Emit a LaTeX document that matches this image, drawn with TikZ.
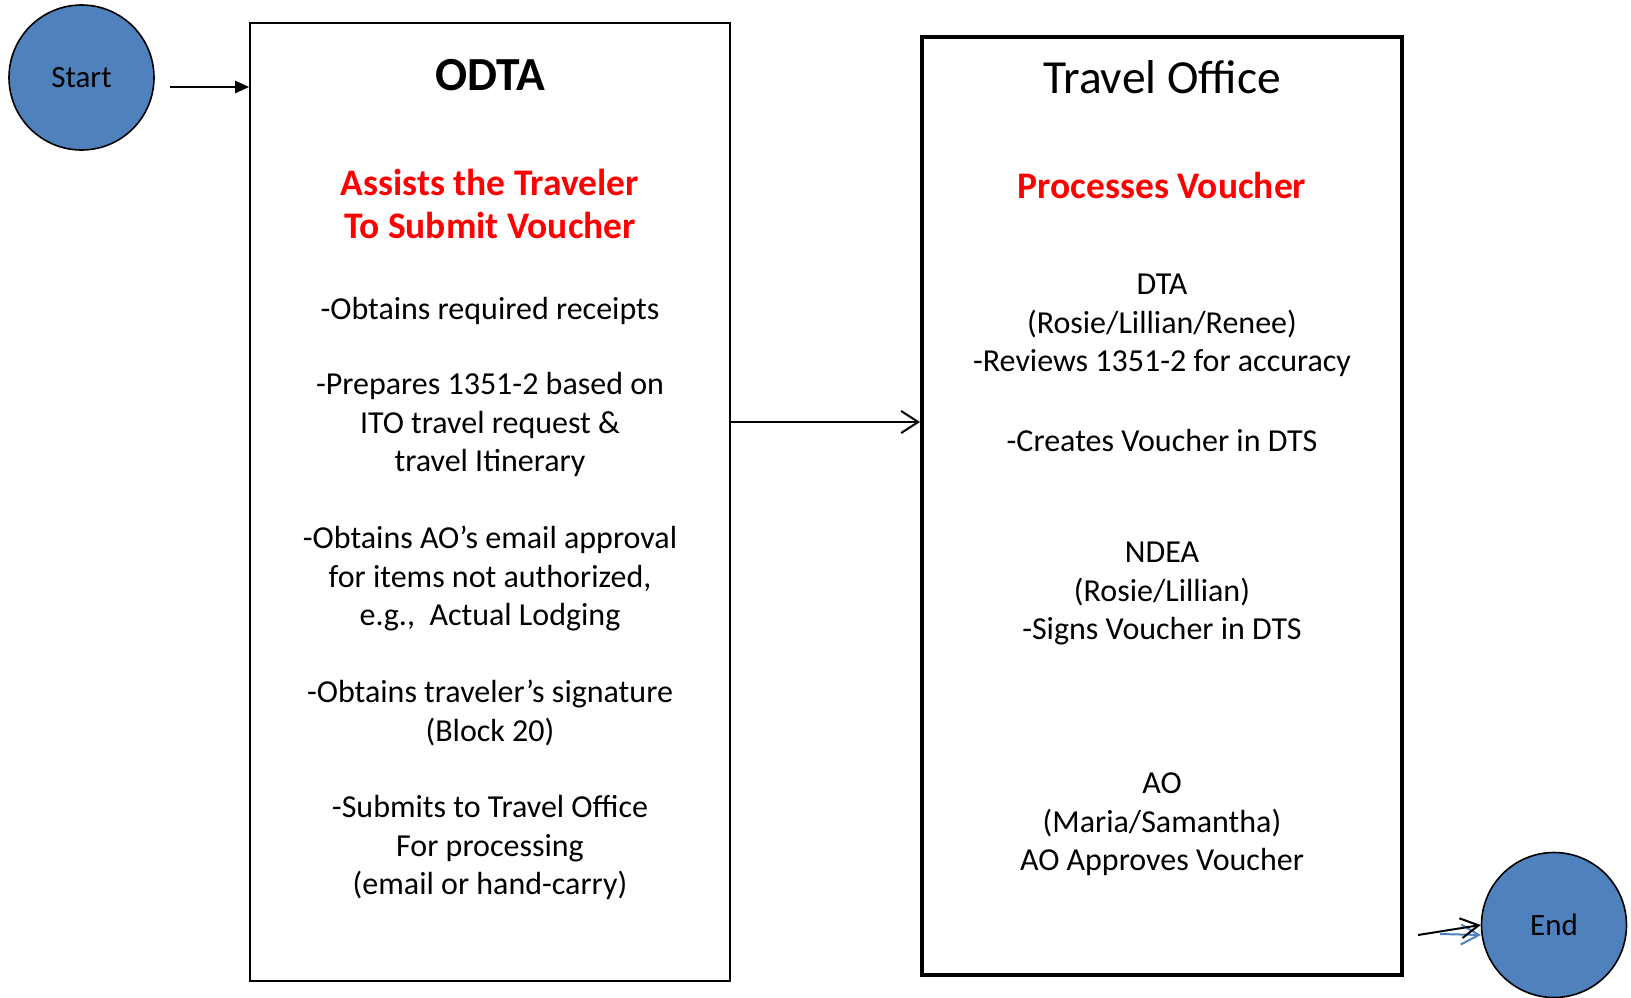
\documentclass[tikz,border=0pt]{standalone}
\usepackage{fontspec}
\setmainfont{Carlito}
\usetikzlibrary{arrows.meta}
\definecolor{circblue}{HTML}{4F81BD}
\begin{document}
\begin{tikzpicture}[x=1pt,y=-1pt,
  circ/.style={circle,draw=black,line width=1.6pt,fill=circblue,minimum size=145pt,inner sep=0pt,font=\fontsize{31}{36}\selectfont},
  boxthin/.style={draw=black,line width=1.6pt,minimum width=480pt,minimum height=958pt,inner sep=0pt},
  boxthick/.style={draw=black,line width=4pt,minimum width=480pt,minimum height=938pt,inner sep=0pt},
  body/.style={align=center,inner sep=0pt,font=\fontsize{32}{38.5}\selectfont},
  ttl/.style={inner sep=0pt,font=\fontsize{47.5}{56}\selectfont},
  redttl/.style={align=center,inner sep=0pt,text=red,font=\fontsize{37.5}{43.5}\selectfont\bfseries},
  conn/.style={line width=2pt}
]
\useasboundingbox (0,0) rectangle (1631,997);

\node[circ] (start) at (81.5,77.5) {Start};
\node[circ] (end) at (1554,925) {End};
\node[boxthin] (odta) at (490,502) {};
\node[boxthick] (travel) at (1162,506) {};

% ODTA column
\node[ttl,font=\fontsize{47.5}{56}\selectfont\bfseries,anchor=base] (t1) at (490,90) {ODTA};
\node[redttl] (r1) at (490,204) {Assists the Traveler\\ To Submit Voucher};
\node[body] (l1) at (490,310.5) {-Obtains required receipts};
\node[body] (l2) at (490,424.5) {-Prepares 1351-2 based on\\ITO travel request \&\\travel Itinerary};
\node[body] (l3) at (490,578.5) {-Obtains AO’s email approval\\for items not authorized,\\e.g.,\ \ Actual Lodging};
\node[body] (l4) at (490,713) {-Obtains traveler’s signature\\(Block 20)};
\node[body] (l5) at (490,847.5) {-Submits to Travel Office\\For processing\\(email or hand-carry)};

% Travel Office column
\node[ttl,anchor=base] (t2) at (1162,93) {Travel Office};
\node[redttl] (r2) at (1162,185) {Processes Voucher};
\node[body] (m1) at (1162,325.5) {DTA\\(Rosie/Lillian/Renee)\\-Reviews 1351-2 for accuracy};
\node[body] (m2) at (1162,440.5) {-Creates Voucher in DTS};
\node[body] (m3) at (1162,593.5) {NDEA\\(Rosie/Lillian)\\-Signs Voucher in DTS};
\node[body] (m4) at (1162,824.5) {AO\\(Maria/Samantha)\\AO Approves Voucher};

% connectors
\coordinate (s0) at (170,87);
\draw[conn,-{Triangle[length=14pt,width=12pt]}] (s0) -- (odta.west |- s0);
\coordinate (mid) at (0,422);
\draw[conn,-{Straight Barb[length=17pt,width=22pt,line width=2pt]}] (odta.east |- mid) -- (travel.west |- mid);
\coordinate (e0) at (1418,935);
\coordinate (eb) at (1440,934);
\draw[conn,draw=circblue,-{Straight Barb[length=18pt,width=20pt,line width=2pt]}] (eb) -- (1481,935);
\draw[conn,-{Straight Barb[length=18pt,width=20pt,line width=2pt]}] (e0) -- (end.west);
\end{tikzpicture}
\end{document}
